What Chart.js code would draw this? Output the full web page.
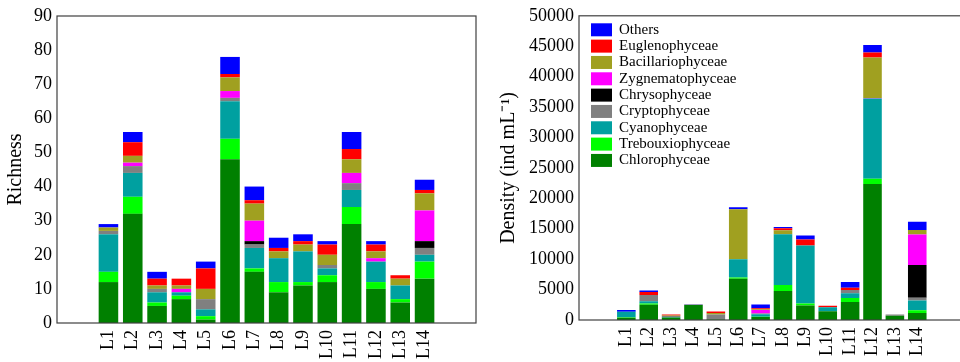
<!DOCTYPE html>
<html>
<head>
<meta charset="utf-8">
<script src="https://cdn.jsdelivr.net/npm/chart.js@4.4.1/dist/chart.umd.min.js"></script>
<style>
  html, body { margin: 0; padding: 0; background: #fff; overflow: hidden; width: 960px; height: 362px; }
  #richChart { position: absolute; left: 0; top: 0; }
  #densChart { position: absolute; left: 480px; top: 0; }
</style>
</head>
<body>
<canvas id="richChart" width="480" height="362"></canvas>
<canvas id="densChart" width="490" height="362"></canvas>
<script>
// Sampling sites
const sites = ['L1', 'L2', 'L3', 'L4', 'L5', 'L6', 'L7', 'L8', 'L9', 'L10', 'L11', 'L12', 'L13', 'L14'];

// Phytoplankton groups (stack order, bottom to top) and their colours
const groups = ['Chlorophyceae', 'Trebouxiophyceae', 'Cyanophyceae', 'Cryptophyceae', 'Chrysophyceae',
                'Zygnematophyceae', 'Bacillariophyceae', 'Euglenophyceae', 'Others'];
const groupColors = ['#008000', '#00ff00', '#00a0a0', '#808080', '#000000',
                     '#ff00ff', '#a0a020', '#ff0000', '#0000ff'];

// Species richness per group and site
const richChloro = [12, 32, 5, 7, 1, 48, 15, 9, 11, 12, 29, 10, 6, 13];
const richTreb   = [3, 5, 1, 1, 1, 6, 1, 3, 1, 2, 5, 2, 1, 5];
const richCyano  = [11, 7, 3, 1, 2, 11, 6, 7, 9, 2, 5, 6, 4, 2];
const richCrypto = [1, 2, 1, 0, 3, 1, 1, 0, 0, 1, 2, 0, 0, 2];
const richChryso = [0, 0, 0, 0, 0, 0, 1, 0, 0, 0, 0, 0, 0, 2];
const richZyg    = [0, 1, 0, 1, 0, 2, 6, 0, 0, 0, 3, 1, 0, 9];
const richBac    = [1, 2, 1, 1, 3, 4, 5, 2, 2, 3, 4, 2, 2, 5];
const richEugl   = [0, 4, 2, 2, 6, 1, 1, 1, 1, 3, 3, 2, 1, 1];
const richOthers = [1, 3, 2, 0, 2, 5, 4, 3, 2, 1, 5, 1, 0, 3];

// Cell density (ind mL-1) per group and site
const densChloro = [350, 2500, 400, 2450, 100, 6800, 500, 4750, 2400, 1450, 2950, 22350, 700, 1150];
const densTreb   = [100, 200, 0, 0, 0, 200, 50, 1000, 300, 0, 650, 850, 0, 450];
const densCyano  = [900, 400, 100, 0, 0, 3000, 400, 8350, 9550, 650, 800, 13200, 0, 1600];
const densCrypto = [0, 1000, 150, 100, 800, 0, 100, 0, 0, 0, 550, 0, 200, 450];
const densChryso = [0, 0, 0, 0, 0, 0, 0, 0, 0, 0, 0, 0, 0, 5400];
const densZyg    = [0, 0, 0, 0, 0, 0, 600, 0, 0, 0, 0, 100, 0, 5000];
const densBac    = [0, 0, 100, 0, 250, 8200, 100, 650, 0, 0, 0, 6650, 0, 750];
const densEugl   = [0, 500, 150, 0, 250, 0, 200, 350, 1000, 250, 350, 800, 0, 0];
const densOthers = [300, 250, 0, 50, 0, 350, 600, 200, 650, 0, 950, 1250, 0, 1350];

const richSeries = [richChloro, richTreb, richCyano, richCrypto, richChryso, richZyg, richBac, richEugl, richOthers];
const densSeries = [densChloro, densTreb, densCyano, densCrypto, densChryso, densZyg, densBac, densEugl, densOthers];

const SERIF = "'Liberation Serif', 'Times New Roman', serif";

// Box around the plotting area
const framePlugin = {
  id: 'frame',
  afterDatasetsDraw(chart) {
    const { ctx, chartArea: a } = chart;
    ctx.save();
    ctx.strokeStyle = '#404040';
    ctx.lineWidth = 1.2;
    ctx.strokeRect(a.left, a.top, a.right - a.left, a.bottom - a.top);
    ctx.restore();
  }
};

// Legend drawn inside the plotting area, top-left, last group first
const insideLegend = {
  id: 'insideLegend',
  afterDraw(chart) {
    const { ctx, chartArea: a } = chart;
    const items = chart.data.datasets.slice().reverse();
    ctx.save();
    ctx.font = '15px ' + SERIF;
    ctx.textBaseline = 'middle';
    ctx.textAlign = 'left';
    items.forEach((d, i) => {
      const y = a.top + 7.5 + i * 16.33;
      ctx.fillStyle = d.backgroundColor;
      ctx.fillRect(a.left + 12, y, 21, 13);
      ctx.fillStyle = '#000';
      ctx.fillText(d.label, a.left + 40, y + 6.5);
    });
    ctx.restore();
  }
};

function buildChart(canvasId, series, cfg) {
  const datasets = series.map((vals, g) => ({
    label: groups[g],
    data: vals.map((v, i) => ({ x: i + 1, y: v })),
    backgroundColor: groupColors[g],
    borderWidth: 0,
    categoryPercentage: 1,
    barPercentage: cfg.barPct
  }));
  return new Chart(document.getElementById(canvasId), {
    type: 'bar',
    data: { datasets },
    plugins: cfg.plugins,
    options: {
      responsive: false,
      animation: false,
      events: [],
      layout: { padding: cfg.padding },
      plugins: { legend: { display: false }, tooltip: { enabled: false } },
      scales: {
        x: {
          type: 'linear',
          stacked: true,
          min: -0.5,
          max: sites.length + 1.5,
          grid: { display: false, drawTicks: false },
          border: { display: false },
          afterBuildTicks: (s) => { s.ticks = sites.map((_, i) => ({ value: i + 1 })); },
          afterFit: (s) => { s.height = cfg.xHeight; },
          ticks: {
            autoSkip: false,
            minRotation: 90,
            maxRotation: 90,
            padding: 7,
            color: '#000',
            font: { family: SERIF, size: 18 },
            callback: (v) => sites[v - 1]
          }
        },
        y: {
          stacked: true,
          min: 0,
          max: cfg.yMax,
          grid: { display: false, drawTicks: false },
          border: { display: false },
          afterFit: (s) => { s.width = cfg.yWidth; },
          ticks: {
            stepSize: cfg.yStep,
            padding: 5,
            color: '#000',
            font: { family: SERIF, size: 18 },
            callback: (v) => String(v)
          },
          title: {
            display: true,
            text: cfg.yTitle,
            color: '#000',
            font: { family: SERIF, size: 20 },
            padding: { top: cfg.titlePad, bottom: 0 }
          }
        }
      }
    }
  });
}

buildChart('richChart', richSeries, {
  barPct: 0.805,
  padding: { top: 16, right: 4, left: 0, bottom: 0 },
  xHeight: 39,
  yWidth: 57,
  yMax: 90,
  yStep: 10,
  yTitle: 'Richness',
  titlePad: 4,
  plugins: [framePlugin]
});

buildChart('densChart', densSeries, {
  barPct: 0.83,
  padding: { top: 13.5, right: 5.4, left: 0, bottom: 0 },
  xHeight: 42,
  yWidth: 99,
  yMax: 50000,
  yStep: 5000,
  yTitle: 'Density (ind mL\u207B\u00B9)',
  titlePad: 17,
  plugins: [framePlugin, insideLegend]
});
</script>
</body>
</html>
